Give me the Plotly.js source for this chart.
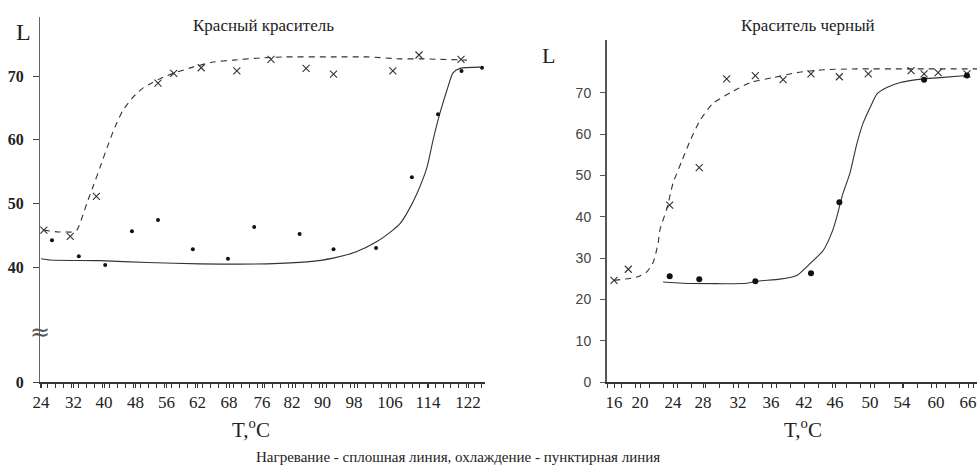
<!DOCTYPE html>
<html>
<head>
<meta charset="utf-8">
<script src="https://cdn.plot.ly/plotly-3.0.1.min.js"></script>
<style>html,body{margin:0;padding:0;background:#fff;}#chart{width:977px;height:470px;}</style>
</head>
<body>
<div id="chart"></div>
<script>
// ---------- DATA ----------
// Red dye ("Красный краситель")
const redTickLabels = [24, 32, 40, 48, 56, 62, 68, 76, 82, 90, 98, 106, 114, 122];
const redCoolT = [24.7, 31.2, 38.0, 53.8, 57.4, 62.7, 69.9, 77.8, 85.7, 92.8, 106.6, 112.1, 120.6];
const redCoolL = [45.8, 44.8, 51.1, 68.9, 70.4, 71.3, 70.8, 72.6, 71.2, 70.3, 70.8, 73.3, 72.6];
const redHeatT = [26.7, 33.4, 40.3, 47.1, 53.8, 61.1, 67.8, 74.1, 84.0, 92.8, 102.9, 110.6, 116.0, 120.7, 124.8];
const redHeatL = [44.2, 41.7, 40.3, 45.6, 47.4, 42.8, 41.3, 46.3, 45.2, 42.8, 43.0, 54.1, 64.0, 70.8, 71.3];
const redCoolCurveT = [24.7, 28.2, 29.9, 31.6, 32.9, 34.2, 35.5, 37.1, 39.0, 40.8, 42.8, 44.8, 47.4, 49.9, 52.5, 55.1, 58.0, 61.1, 65.0, 69.0, 74.8, 80.2, 92.7, 100.9, 108.1, 112.3, 121.8];
const redCoolCurveL = [45.8, 45.5, 45.5, 45.5, 45.8, 47.7, 50.0, 52.6, 55.7, 58.8, 62.0, 64.6, 66.7, 68.1, 69.0, 69.8, 70.6, 71.4, 72.2, 72.5, 72.8, 73.0, 73.0, 73.0, 72.7, 72.7, 72.5];
const redHeatCurveT = [24, 26.2, 39.0, 51.0, 62.5, 77.0, 85.9, 92.7, 98.5, 103.1, 106.6, 108.1, 109.6, 111.7, 113.8, 115.0, 116.4, 117.8, 119.0, 120.4, 124.4];
const redHeatCurveL = [41.3, 41.1, 41.0, 40.7, 40.5, 40.5, 40.8, 41.4, 42.4, 44.0, 45.8, 46.8, 48.5, 51.6, 55.7, 59.9, 64.2, 67.8, 70.5, 71.2, 71.4];
const redYTicks = [0, 40, 50, 60, 70];

// Black dye ("Краситель черный")
const blackTickLabels = [16, 20, 24, 28, 32, 36, 42, 46, 50, 54, 60, 66];
const blackCoolT = [16, 18.2, 23.6, 27.5, 30.7, 34.1, 38.2, 42.9, 46.5, 49.8, 55.6, 57.9, 60.4, 65.8];
const blackCoolL = [24.6, 27.3, 42.8, 51.9, 73.4, 74.2, 73.2, 74.6, 73.9, 74.6, 75.4, 74.6, 74.9, 74.6];
const blackHeatT = [23.6, 27.5, 34.1, 42.9, 46.5, 57.9, 65.8];
const blackHeatL = [25.6, 24.9, 24.4, 26.3, 43.5, 73.2, 74.2];
const blackCoolCurveT = [16, 19.5, 20.8, 21.6, 22.2, 22.4, 23.3, 24.0, 25.2, 26.3, 27.6, 29.1, 31.1, 33.5, 36.4, 40.7, 44.5, 48.5, 54.9, 67.7];
const blackCoolCurveL = [24.6, 25.4, 26.6, 29.0, 33.6, 36.7, 42.3, 48.1, 53.6, 58.5, 63.3, 67.4, 70.0, 72.5, 73.7, 74.9, 75.6, 75.8, 75.8, 75.8];
const blackHeatCurveT = [22.8, 25.3, 33.1, 34.3, 37.6, 40.7, 42.8, 44.5, 45.7, 46.2, 46.9, 47.7, 48.5, 49.2, 50.0, 50.9, 52.1, 53.8, 56.6, 60.75, 65.8];
const blackHeatCurveL = [24.2, 23.9, 23.9, 24.4, 24.9, 25.8, 28.7, 31.9, 36.7, 39.9, 45.6, 50.5, 57.7, 62.6, 66.4, 69.8, 71.3, 72.5, 73.2, 73.7, 74.2];
const blackYTicks = [0, 10, 20, 30, 40, 50, 60, 70];

// ---------- AXIS SCALES (layout) ----------
// the temperature axes are not uniform: labels are drawn at these axis positions
const W = 977, H = 470;
const redTickPos = [41, 73.5, 104, 135.5, 166.5, 197.5, 229, 262, 292, 322.5, 354, 390, 428, 468];
const blackTickPos = [614, 640, 673, 703, 738, 771, 804, 835, 870, 902, 936, 968];
function scaleT(t, labels, pos) {
  let i = 0;
  if (t >= labels[labels.length - 1]) i = labels.length - 2;
  else { while (i < labels.length - 2 && t > labels[i + 1]) i++; }
  const f = (t - labels[i]) / (labels[i + 1] - labels[i]);
  return pos[i] + f * (pos[i + 1] - pos[i]);
}
const rx = a => a.map(t => scaleT(t, redTickLabels, redTickPos));
const bx = a => a.map(t => scaleT(t, blackTickLabels, blackTickPos));

// left y axis is broken between 0 and 40: "0" sits at this compressed value
const redZeroAt = 21.94;
const redYVals = redYTicks.map(v => v === 0 ? redZeroAt : v);

const serif = 'Liberation Serif, Times New Roman, serif';
const ink = '#222';
const dashed = {color: '#333', width: 1.1, dash: '6px,5px', shape: 'spline', smoothing: 0.6};
const solid = {color: '#333', width: 1.1, shape: 'spline', smoothing: 0.6};
const xMark = {symbol: 'x-thin-open', size: 7, color: '#333', line: {color: '#333', width: 1.1}};

const traces = [
  {x: rx(redCoolCurveT), y: redCoolCurveL, xaxis: 'x', yaxis: 'y', mode: 'lines', line: dashed},
  {x: rx(redHeatCurveT), y: redHeatCurveL, xaxis: 'x', yaxis: 'y', mode: 'lines', line: solid},
  {x: rx(redCoolT), y: redCoolL, xaxis: 'x', yaxis: 'y', mode: 'markers', marker: xMark},
  {x: rx(redHeatT), y: redHeatL, xaxis: 'x', yaxis: 'y', mode: 'markers',
   marker: {symbol: 'circle', size: 4, color: '#111'}},

  {x: bx(blackCoolCurveT), y: blackCoolCurveL, xaxis: 'x2', yaxis: 'y2', mode: 'lines', line: dashed},
  {x: bx(blackHeatCurveT), y: blackHeatCurveL, xaxis: 'x2', yaxis: 'y2', mode: 'lines', line: solid},
  {x: bx(blackCoolT), y: blackCoolL, xaxis: 'x2', yaxis: 'y2', mode: 'markers', marker: xMark},
  {x: bx(blackHeatT), y: blackHeatL, xaxis: 'x2', yaxis: 'y2', mode: 'markers',
   marker: {symbol: 'circle', size: 6, color: '#111'}}
];

function label(text, px, py, size, extra) {
  return Object.assign({text: text, xref: 'paper', yref: 'paper', x: px / W, y: 1 - py / H,
    xanchor: 'center', yanchor: 'middle', showarrow: false,
    font: {family: serif, size: size, color: ink}}, extra || {});
}

const yB = 382; // pixel row of both x axes
const layout = {
  width: W, height: H, showlegend: false,
  margin: {l: 0, r: 0, t: 0, b: 0},
  paper_bgcolor: '#fff', plot_bgcolor: 'rgba(0,0,0,0)',
  font: {family: serif, color: ink},
  xaxis: {
    domain: [40 / W, 485 / W], range: [40, 485], anchor: 'y',
    showgrid: false, zeroline: false, showline: true, linecolor: '#333', linewidth: 1.5,
    tickmode: 'array', tickvals: redTickPos, ticktext: redTickLabels.map(String),
    ticks: 'outside', ticklen: 4, tickcolor: '#333', tickwidth: 1,
    minor: {ticks: 'outside', ticklen: 4, tickcolor: '#333', dtick: 7.75, tick0: 40, showgrid: false},
    tickfont: {family: serif, size: 17, color: ink}
  },
  yaxis: {
    domain: [(H - yB) / H, (H - 17) / H], range: [redZeroAt, 79.27], anchor: 'x',
    showgrid: false, zeroline: false, showline: true, linecolor: '#666', linewidth: 1,
    tickmode: 'array', tickvals: redYVals, ticktext: redYTicks.map(String),
    ticks: 'outside', ticklen: 6, tickcolor: '#444', ticklabelstandoff: 6,
    tickfont: {family: serif, size: 16, color: ink, weight: 'bold'}
  },
  xaxis2: {
    domain: [607 / W, 1], range: [607, 977], anchor: 'y2',
    showgrid: false, zeroline: false, showline: true, linecolor: '#333', linewidth: 1.5,
    tickmode: 'array', tickvals: blackTickPos, ticktext: blackTickLabels.map(String),
    ticks: 'outside', ticklen: 4, tickcolor: '#333', tickwidth: 1,
    minor: {ticks: 'outside', ticklen: 4, tickcolor: '#333', dtick: 14.1, tick0: 607, showgrid: false},
    tickfont: {family: serif, size: 17, color: ink}
  },
  yaxis2: {
    domain: [(H - yB) / H, (H - 40) / H], range: [0, 82.8], anchor: 'x2',
    showgrid: false, zeroline: false, showline: true, linecolor: '#555', linewidth: 2,
    tickmode: 'array', tickvals: blackYTicks, ticktext: blackYTicks.map(String),
    ticks: 'outside', ticklen: 5, tickcolor: '#555', ticklabelstandoff: 6,
    tickfont: {family: 'Liberation Sans, Arial, sans-serif', size: 14, color: '#444'}
  },
  annotations: [
    label('Красный краситель', 263, 25, 17),
    label('Краситель черный', 808, 25, 17),
    label('L', 23, 32, 24),
    label('L', 548, 56, 22),
    label('T,<sup>o</sup>C', 251, 428, 21),
    label('T,<sup>o</sup>C', 803, 428, 21),
    label('Нагревание - сплошная линия, охлаждение - пунктирная линия', 458, 457, 15),
    Object.assign(label('≈', 40, 0, 24, {font: {family: 'DejaVu Sans', size: 24, color: '#555'}}),
      {yref: 'y', y: 29.8})
  ]
};

Plotly.newPlot('chart', traces, layout, {staticPlot: true, displayModeBar: false});
</script>
</body>
</html>
